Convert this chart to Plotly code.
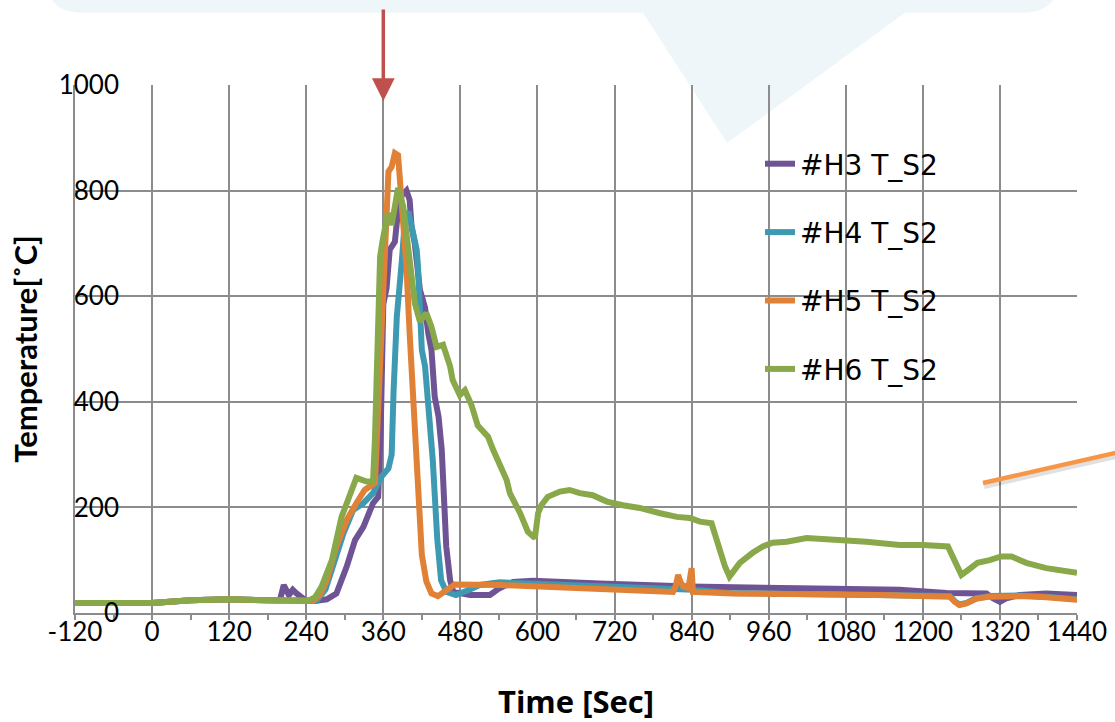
import plotly.graph_objects as go

# ---- thermocouple readings, T_S2 position, four test runs ----
h3_time = [-120, 0, 60, 120, 180, 199, 205, 213, 219, 224, 240, 256, 272, 287, 303, 316,
           329, 344, 352, 356, 360, 365, 370, 378, 383, 388, 396, 401, 404, 409, 417, 422,
           425, 430, 435, 440, 446, 451, 453, 458, 464, 469, 479, 495, 526, 541, 562, 593,
           697, 837, 1008, 1164, 1237, 1299, 1309, 1320, 1330, 1351, 1392, 1440]
h3_temp = [19, 19, 24, 26, 24, 24, 53, 34, 44, 38, 23, 23, 26, 37, 88, 138,
           163, 208, 220, 350, 585, 615, 688, 703, 763, 790, 800, 782, 732, 700, 612, 585,
           578, 530, 498, 410, 372, 309, 252, 126, 62, 40, 38, 34, 34, 47, 59, 61,
           56, 50, 47, 44, 38, 37, 28, 21, 28, 34, 37, 34]

h4_time = [-120, 0, 60, 120, 180, 240, 256, 270, 282, 298, 313, 329, 344, 357, 368, 373,
           376, 381, 389, 394, 399, 407, 412, 414, 417, 420, 425, 430, 437, 444, 450, 458,
           473, 494, 510, 541, 700, 811, 842, 900, 1160, 1242, 1250, 1257, 1268, 1283, 1304,
           1351, 1392, 1440]
h4_temp = [19, 19, 24, 26, 24, 23, 23, 45, 88, 151, 195, 208, 227, 258, 274, 300,
           420, 561, 669, 751, 760, 713, 688, 656, 580, 498, 467, 403, 290, 140, 62, 40,
           34, 44, 53, 58, 50, 45, 44, 38, 35, 32, 22, 16, 19, 28, 32,
           33, 31, 26]

h5_time = [-120, 0, 60, 120, 180, 240, 251, 262, 272, 287, 303, 318, 331, 347, 352, 357,
           363, 368, 373, 378, 383, 389, 396, 401, 406, 410, 414, 417, 420, 427, 435, 445,
           458, 471, 541, 697, 811, 815, 819, 823, 827, 835, 838, 840, 842, 904, 1133, 1242,
           1250, 1257, 1268, 1283, 1304, 1351, 1392, 1440]
h5_temp = [19, 19, 24, 26, 24, 23, 23, 35, 62, 126, 176, 208, 233, 246, 403, 560,
           719, 836, 845, 871, 867, 782, 656, 530, 420, 330, 246, 151, 110, 60, 37, 32,
           42, 54, 53, 47, 40, 50, 72, 58, 50, 47, 70, 85, 40, 37, 34, 31,
           21, 15, 18, 27, 31, 32, 30, 25]

h6_time = [-120, 0, 60, 120, 180, 240, 243, 254, 264, 280, 295, 305, 318, 334, 344, 347,
           350, 353, 355, 359, 367, 373, 383, 391, 401, 409, 417, 427, 435, 443, 453, 464,
           468, 476, 479, 487, 497, 507, 518, 523, 531, 542, 552, 557, 573, 585, 596, 601,
           606, 616, 635, 650, 666, 686, 708, 733, 759, 791, 817, 837, 853, 871, 881, 892,
           899, 915, 935, 951, 966, 988, 1019, 1060, 1112, 1164, 1200, 1239, 1250, 1260, 1270, 1285,
           1304, 1322, 1338, 1361, 1392, 1424, 1440]
h6_temp = [19, 19, 24, 26, 24, 23, 23, 30, 50, 100, 182, 214, 256, 249, 249, 330,
           450, 600, 675, 706, 757, 735, 805, 770, 669, 587, 552, 568, 542, 504, 508, 467,
           441, 417, 413, 422, 395, 355, 343, 334, 309, 277, 252, 227, 189, 154, 142, 189,
           204, 220, 230, 233, 227, 223, 211, 204, 199, 189, 182, 180, 173, 170, 126, 88,
           69, 95, 114, 126, 133, 135, 142, 140, 135, 129, 129, 126, 95, 72, 81, 95,
           100, 107, 107, 95, 85, 78, 76]

series = [
    ("#H3 T_S2", h3_time, h3_temp, "#6E5494"),
    ("#H4 T_S2", h4_time, h4_temp, "#3E9AB3"),
    ("#H5 T_S2", h5_time, h5_temp, "#E08136"),
    ("#H6 T_S2", h6_time, h6_temp, "#88A84A"),
]

x_ticks = list(range(-120, 1441, 120))
y_ticks = list(range(0, 1001, 200))

W, H = 1115, 722
L, R, T, B = 75, 1077, 85, 613          # plot-area edges in pixels


def px(xp):
    return (xp - L) / (R - L)


def py(yp):
    return (B - yp) / (B - T)


GRID = "#8C8C8C"
TICKFONT = dict(family="Lato", size=26, color="#000000")

fig = go.Figure()
for i, (name, t, v, c) in enumerate(series):
    fig.add_trace(go.Scatter(
        x=t, y=v, name=name, mode="lines",
        line=dict(color=c, width=6), legendgroup=f"g{i}",
    ))

# carrier for the free-standing label axis
fig.add_trace(go.Scatter(x=[], y=[], yaxis="y2", showlegend=False, hoverinfo="skip"))

# pale callout balloon behind the chart
cl, cr, cb, ct, rad = px(45), px(1060), py(12.7), py(-40), 38
rx, ry = rad / (R - L), rad / (B - T)
balloon = (
    f"M {cl},{ct} L {cl},{cb + ry} Q {cl},{cb} {cl + rx},{cb} "
    f"L {px(643)},{cb} L {px(727)},{py(143)} L {px(905)},{cb} "
    f"L {cr - rx},{cb} Q {cr},{cb} {cr},{cb + ry} L {cr},{ct} Z"
)
fig.add_shape(type="path", path=balloon, xref="paper", yref="paper",
              fillcolor="#EFF6F9", line=dict(width=0), layer="below")

# orange pointer line on the right, with its soft shadow
fig.add_shape(type="line", xref="paper", yref="paper",
              x0=px(984), y0=py(486), x1=px(1129), y1=py(453),
              line=dict(color="rgba(0,0,0,0.12)", width=6))
fig.add_shape(type="line", xref="paper", yref="paper",
              x0=px(983), y0=py(483), x1=px(1128), y1=py(450),
              line=dict(color="#F79646", width=4.5))

# red marker arrow at t = 360 s
fig.add_annotation(x=360, xref="x", y=py(101), yref="paper", text="",
                   showarrow=True, ax=0, ay=-93, arrowhead=2, arrowsize=1.3,
                   arrowwidth=3.5, arrowcolor="#C0504D")

fig.update_layout(
    width=W, height=H,
    margin=dict(l=L, r=W - R, t=T, b=H - B, autoexpand=False),
    paper_bgcolor="#FFFFFF", plot_bgcolor="rgba(0,0,0,0)",
    font=dict(family="Lato", color="#000000"),
    showlegend=True,
    legend=dict(
        x=px(760), y=py(139), xanchor="left", yanchor="top",
        bgcolor="rgba(0,0,0,0)", borderwidth=0,
        font=dict(family="DejaVu Sans", size=28, color="#000000"),
        traceorder="grouped", tracegroupgap=29, itemwidth=30,
    ),
    xaxis=dict(
        range=[-120, 1440], tickvals=x_ticks, ticktext=[str(v) for v in x_ticks],
        showgrid=True, gridcolor=GRID, gridwidth=2,
        showline=True, linecolor=GRID, linewidth=2,
        ticks="outside", ticklen=5, tickcolor=GRID, tickwidth=2,
        minor=dict(dtick=60, tick0=-120, ticks="outside", ticklen=5,
                   tickcolor=GRID, tickwidth=2, showgrid=False),
        tickfont=TICKFONT, zeroline=False, ticklabelstandoff=-10,
        title=dict(text="<b>Time [Sec]</b>",
                   font=dict(family="Open Sans", size=31, color="#000000"),
                   standoff=54),
    ),
    yaxis=dict(
        range=[0, 1000], tickvals=y_ticks,
        showgrid=True, gridcolor=GRID, gridwidth=2,
        showline=True, linecolor=GRID, linewidth=2,
        showticklabels=False, ticks="", zeroline=False,
        title=dict(text="<b>Temperature[˚C]</b>",
                   font=dict(family="Lato", size=31, color="#000000"),
                   standoff=26),
    ),
    yaxis2=dict(
        overlaying="y", anchor="free", position=px(119), side="left",
        range=[0, 1000], tickvals=y_ticks, ticktext=[str(v) for v in y_ticks],
        showgrid=False, showline=False, ticks="", zeroline=False,
        tickfont=TICKFONT,
    ),
)

fig.write_html("out.html")
